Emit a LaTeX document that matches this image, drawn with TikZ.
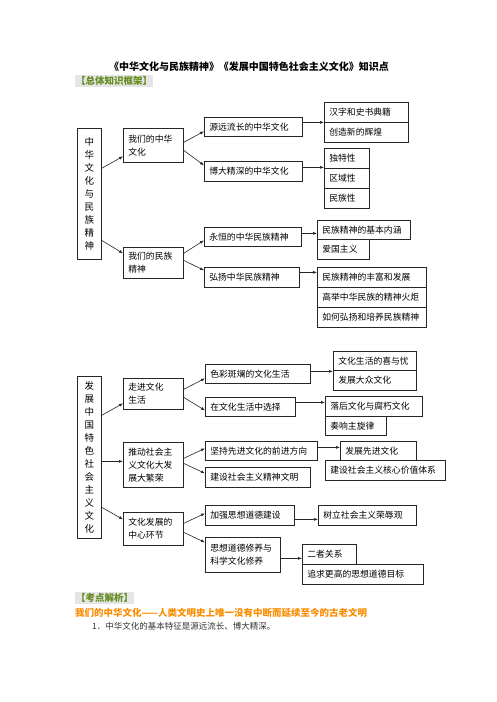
\documentclass[tikz,border=0pt]{standalone}
\usepackage{fontspec}
\setmainfont{Noto Sans CJK SC}
\usepackage{xcolor}
\usepackage{tikz}
\usetikzlibrary{positioning,calc,arrows.meta}
\definecolor{headgreen}{RGB}{100,140,30}
\definecolor{headorange}{RGB}{250,140,0}

\begin{document}
\begin{tikzpicture}[x=1pt, y=-1pt,
    kbox/.style={draw=black!85, line width=0.7pt, anchor=north west, inner xsep=5pt, inner ysep=0pt, align=left, font=\fontsize{8.8}{13}\selectfont},
    vbox/.style={draw=black!85, line width=0.7pt, anchor=north west, minimum width=24pt, inner sep=0pt, align=center, font=\fontsize{9.5}{13}\selectfont},
    head/.style={anchor=west, fill=black!10, text=headgreen, inner sep=1pt, font=\bfseries\fontsize{9.5}{11}\selectfont},
    link/.style={-{Latex[length=4pt,width=3pt]}, line width=0.6pt, black!85}]
    \useasboundingbox (0,0) rectangle (496,702);
    \fill [white] (0,0) rectangle (496,702);

    % Title
    \node [font=\bfseries\fontsize{10}{12}\selectfont] (title) at (249,67) {《中华文化与民族精神》《发展中国特色社会主义文化》知识点};
    \node [head] (head1) at (75,81) {【总体知识框架】};

    % Framework 1
    \node [vbox, minimum height=131pt] (m1) at (77,128) {中\\华\\文\\化\\与\\民\\族\\精\\神};
    \node [kbox, text width=50pt, minimum height=34pt] (a1) at (123,128) {我们的中华\\文化};
    \node [kbox, text width=50pt, minimum height=31pt] (a2) at (123,247) {我们的民族\\精神};

    \node [kbox, text width=88pt, minimum height=19pt] (b1) at (204,117) {源远流长的中华文化};
    \node [kbox, text width=88pt, minimum height=20pt] (b2) at (204,161) {博大精深的中华文化};
    \node [kbox, text width=87pt, minimum height=19pt] (b3) at (204,227) {永恒的中华民族精神};
    \node [kbox, text width=85pt, minimum height=20pt] (b4) at (204,267) {弘扬中华民族精神};

    \node [kbox, text width=74pt, minimum height=20pt] (c1) at (324,102) {汉字和史书典籍};
    \node [kbox, text width=74pt, minimum height=20pt] (c2) at (324,122) {创造新的辉煌};
    \foreach \t [count=\i from 3] in {独特性, 区域性, 民族性}
        \node [kbox, text width=35pt, minimum height=20pt] (c\i) at (324,128+20*\i-40) {\t};
    \node [kbox, text width=83pt, minimum height=19pt] (c6) at (317,220) {民族精神的基本内涵};
    \node [kbox, text width=42pt, minimum height=20pt] (c7) at (317,239) {爱国主义};
    \foreach \t [count=\i from 8] in {民族精神的丰富和发展, 高举中华民族的精神火炬, 如何弘扬和培养民族精神}
        \node [kbox, text width=99pt, minimum height=20pt] (c\i) at (317,267+20*\i-160) {\t};

    % Framework 2
    \node [vbox, minimum height=162pt] (m2) at (77,376) {发\\展\\中\\国\\特\\色\\社\\会\\主\\义\\文\\化};
    \node [kbox, text width=50pt, minimum height=31pt] (d1) at (123,378) {走进文化\\生活};
    \node [kbox, text width=50pt, minimum height=45pt] (d2) at (123,442) {推动社会主\\义文化大发\\展大繁荣};
    \node [kbox, text width=50pt, minimum height=33pt] (d3) at (123,512) {文化发展的\\中心环节};

    \node [kbox, text width=95pt, minimum height=19pt] (e1) at (205,364) {色彩斑斓的文化生活};
    \node [kbox, text width=80pt, minimum height=19pt] (e2) at (205,397) {在文化生活中选择};
    \node [kbox, text width=102pt, minimum height=19pt] (e3) at (205,441) {坚持先进文化的前进方向};
    \node [kbox, text width=95pt, minimum height=20pt] (e4) at (205,467) {建设社会主义精神文明};
    \node [kbox, text width=79pt, minimum height=20pt] (e5) at (205,505) {加强思想道德建设};
    \node [kbox, text width=65pt, minimum height=35pt] (e6) at (205,537) {思想道德修养与\\科学文化修养};

    \node [kbox, text width=73pt, minimum height=19pt] (f1) at (333,351) {文化生活的喜与忧};
    \node [kbox, text width=73pt, minimum height=20pt] (f2) at (333,370) {发展大众文化};
    \node [kbox, text width=87pt, minimum height=20pt] (f3) at (325,396) {落后文化与腐朽文化};
    \node [kbox, text width=51pt, minimum height=19pt] (f4) at (325,416) {奏响主旋律};
    \node [kbox, text width=66pt, minimum height=19pt] (f5) at (340,441) {发展先进文化};
    \node [kbox, text width=110pt, minimum height=20pt] (f6) at (325,460) {建设社会主义核心价值体系};
    \node [kbox, text width=88pt, minimum height=20pt] (f7) at (318,505) {树立社会主义荣辱观};
    \node [kbox, text width=44pt, minimum height=20pt] (f8) at (302,544) {二者关系};
    \node [kbox, text width=111pt, minimum height=20pt] (f9) at (302,564) {追求更高的思想道德目标};

    % Slanted arrows
    \foreach \a/\sa/\b/\sb in {m1/25.5/a1/-11, m1/-46.5/a2/9.5, a1/3/b1/-4.5, a1/-5/b2/6,
        a2/9.5/b3/-3.5, a2/2.5/b4/7, m2/42/d1/-9.5, m2/-4/d2/3.5, m2/-50/d3/9.5,
        d1/4.5/e1/-4.5, d1/-3.5/e2/-3.5, d2/6.5/e3/2.5, d2/1.5/e4/4, d3/5.5/e5/2, d3/-3.5/e6/12.5}
        \draw [link] ([yshift=\sa]\a.east) -- ([yshift=\sb]\b.west);

    % Straight arrows
    \foreach \a/\s/\b in {b1/4.5/c1, b2/4/c3, b3/3.5/c6, b4/5/c8, e1/2.5/f1,
        e2/4.5/f3, e3/3.5/f5, e5/-4/f7, e6/-3.5/f8}
        \draw [link] ([yshift=\s]\a.east) -- ([yshift=\s]\a.east -| \b.west);

    % Notes
    \node [head] (head2) at (75,598) {【考点解析】};
    \node [anchor=west, inner sep=0pt, text=headorange, font=\bfseries\fontsize{9.5}{11}\selectfont] (point1) at (75,613) {我们的中华文化——人类文明史上唯一没有中断而延续至今的古老文明};
    \node [anchor=west, inner sep=0pt, text=black!80, font=\fontsize{8.5}{10}\selectfont] (item1) at (92,626) {1．中华文化的基本特征是源远流长、博大精深。};
\end{tikzpicture}
\end{document}
